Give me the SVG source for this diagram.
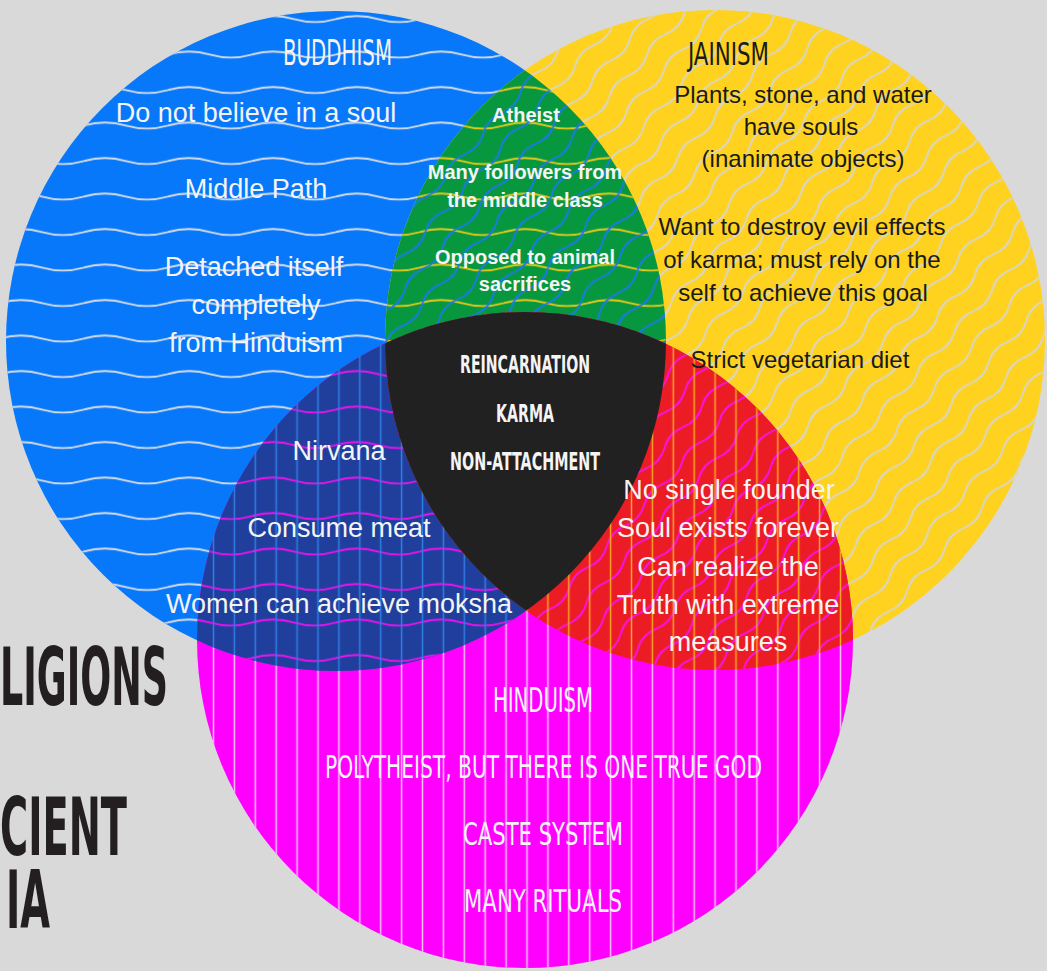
<svg xmlns="http://www.w3.org/2000/svg" width="1047" height="971" viewBox="0 0 1047 971">
  <defs>
    <style>
      .body{font-family:"Liberation Sans",Arial,sans-serif;text-anchor:middle}
      .light{fill:#f4f4f4}
      .dark{fill:#1a1a1a}
      .lg{font-size:27px}
      .md{font-size:24px}
      .sm{font-size:20px;font-weight:bold}
      .disp{font-family:"Liberation Sans Narrow","DejaVu Sans Condensed","Liberation Sans",sans-serif}
      .heavy{font-weight:bold}
      .title{font-family:"Liberation Sans Narrow","DejaVu Sans Condensed","Liberation Sans",sans-serif;font-weight:bold;fill:#231f20;font-size:81px}
      .ln{fill:none;stroke-width:1.8}
      .vl{fill:none;stroke-width:1.5}
    </style>

    <!-- circle outlines used for clipping -->
    <clipPath id="cB"><circle cx="336" cy="341" r="330"/></clipPath>
    <clipPath id="cY"><circle cx="715" cy="340" r="330"/></clipPath>
    <clipPath id="cP"><circle cx="525" cy="640" r="328"/></clipPath>

    <!-- horizontal waves (Buddhism) -->
    <pattern id="waveW" width="84" height="35.5" patternUnits="userSpaceOnUse">
      <path class="ln" d="M0,19 q21,-6 42,0 t42,0" stroke="#d8dde6"/>
    </pattern>
    <pattern id="waveY" width="84" height="35.5" patternUnits="userSpaceOnUse">
      <path class="ln" d="M0,19 q21,-6 42,0 t42,0" stroke="#e8c81c"/>
    </pattern>
    <pattern id="waveM" width="84" height="35.5" patternUnits="userSpaceOnUse">
      <path class="ln" d="M0,19 q21,-6 42,0 t42,0" stroke="#f010f0"/>
    </pattern>

    <!-- diagonal waves (Jainism) -->
    <pattern id="diagW" width="56" height="23" patternUnits="userSpaceOnUse" patternTransform="rotate(-48)">
      <path class="ln" d="M0,11.5 q14,-7 28,0 t28,0" stroke="#d6d6d0"/>
    </pattern>
    <pattern id="diagB" width="56" height="23" patternUnits="userSpaceOnUse" patternTransform="rotate(-48)">
      <path class="ln" d="M0,11.5 q14,-7 28,0 t28,0" stroke="#1a78f0"/>
    </pattern>
    <pattern id="diagM" width="56" height="23" patternUnits="userSpaceOnUse" patternTransform="rotate(-48)">
      <path class="ln" d="M0,11.5 q14,-7 28,0 t28,0" stroke="#f414f4"/>
    </pattern>

    <!-- vertical stripes (Hinduism) -->
    <pattern id="vertW" width="20.9" height="20" patternUnits="userSpaceOnUse">
      <line class="vl" x1="4.5" y1="0" x2="4.5" y2="20" stroke="#f6c6f6"/>
    </pattern>
    <pattern id="vertB" width="20.9" height="20" patternUnits="userSpaceOnUse">
      <line class="vl" x1="4.5" y1="0" x2="4.5" y2="20" stroke="#2f7de6"/>
    </pattern>
    <pattern id="vertO" width="20.9" height="20" patternUnits="userSpaceOnUse">
      <line class="vl" x1="4.5" y1="0" x2="4.5" y2="20" stroke="#f6a623"/>
    </pattern>
  </defs>

  <rect width="1047" height="971" fill="#d9d9d9"/>

  <!-- side title -->
  <g id="title">
    <text class="title" x="0" y="705" textLength="168" lengthAdjust="spacingAndGlyphs">LIGIONS</text>
    <text class="title" x="0" y="855" textLength="127" lengthAdjust="spacingAndGlyphs">CIENT</text>
    <text class="title" x="6" y="928" textLength="44" lengthAdjust="spacingAndGlyphs">IA</text>
  </g>

  <!-- single circles -->
  <g id="buddhism">
    <circle cx="336" cy="341" r="330" fill="#0878fa"/>
    <rect width="1047" height="971" fill="url(#waveW)" clip-path="url(#cB)"/>
  </g>
  <g id="jainism">
    <circle cx="715" cy="340" r="330" fill="#fed21f"/>
    <rect width="1047" height="971" fill="url(#diagW)" clip-path="url(#cY)"/>
  </g>
  <g id="hinduism">
    <circle cx="525" cy="640" r="328" fill="#ff00ff"/>
    <rect width="1047" height="971" fill="url(#vertW)" clip-path="url(#cP)"/>
  </g>

  <!-- pairwise overlaps -->
  <g id="buddhism-jainism" clip-path="url(#cB)">
    <g clip-path="url(#cY)">
      <rect width="1047" height="971" fill="#07983f"/>
      <rect width="1047" height="971" fill="url(#waveY)"/>
      <rect width="1047" height="971" fill="url(#diagB)"/>
    </g>
  </g>
  <g id="buddhism-hinduism" clip-path="url(#cB)">
    <g clip-path="url(#cP)">
      <rect width="1047" height="971" fill="#203f9c"/>
      <rect width="1047" height="971" fill="url(#waveM)"/>
      <rect width="1047" height="971" fill="url(#vertB)"/>
    </g>
  </g>
  <g id="jainism-hinduism" clip-path="url(#cY)">
    <g clip-path="url(#cP)">
      <rect width="1047" height="971" fill="#ec1c24"/>
      <rect width="1047" height="971" fill="url(#diagM)"/>
      <rect width="1047" height="971" fill="url(#vertO)"/>
    </g>
  </g>

  <!-- shared by all three -->
  <g id="all-three" clip-path="url(#cB)">
    <g clip-path="url(#cY)">
      <g clip-path="url(#cP)">
        <rect width="1047" height="971" fill="#222121"/>
      </g>
    </g>
  </g>

  <!-- labels -->
  <g id="buddhism-labels">
    <text class="disp light" x="283" y="65" font-size="35" textLength="109" lengthAdjust="spacingAndGlyphs">BUDDHISM</text>
    <text class="body light lg" x="256" y="122">Do not believe in a soul</text>
    <text class="body light lg" x="256" y="198">Middle Path</text>
    <text class="body light lg" x="254" y="276">Detached itself</text>
    <text class="body light lg" x="256" y="314">completely</text>
    <text class="body light lg" x="256" y="352">from Hinduism</text>
  </g>
  <g id="jainism-labels">
    <text class="disp dark" x="688" y="65" font-size="32" textLength="81" lengthAdjust="spacingAndGlyphs">JAINISM</text>
    <text class="body dark md" x="803" y="103">Plants, stone, and water</text>
    <text class="body dark md" x="801" y="135">have souls</text>
    <text class="body dark md" x="803" y="167">(inanimate objects)</text>
    <text class="body dark md" x="802" y="235">Want to destroy evil effects</text>
    <text class="body dark md" x="802" y="268">of karma; must rely on the</text>
    <text class="body dark md" x="803" y="301">self to achieve this goal</text>
    <text class="body dark md" x="800" y="368">Strict vegetarian diet</text>
  </g>
  <g id="buddhism-jainism-labels">
    <text class="body light sm" x="526" y="122">Atheist</text>
    <text class="body light sm" x="525" y="179">Many followers from</text>
    <text class="body light sm" x="525" y="207">the middle class</text>
    <text class="body light sm" x="525" y="264">Opposed to animal</text>
    <text class="body light sm" x="525" y="291">sacrifices</text>
  </g>
  <g id="buddhism-hinduism-labels">
    <text class="body light lg" x="339" y="460">Nirvana</text>
    <text class="body light lg" x="339" y="537">Consume meat</text>
    <text class="body light lg" x="339" y="613">Women can achieve moksha</text>
  </g>
  <g id="jainism-hinduism-labels">
    <text class="body light lg" x="729" y="499">No single founder</text>
    <text class="body light lg" x="728" y="537">Soul exists forever</text>
    <text class="body light lg" x="728" y="576">Can realize the</text>
    <text class="body light lg" x="728" y="614">Truth with extreme</text>
    <text class="body light lg" x="728" y="651">measures</text>
  </g>
  <g id="all-three-labels">
    <text class="disp heavy light" x="460" y="373" font-size="25" textLength="130" lengthAdjust="spacingAndGlyphs">REINCARNATION</text>
    <text class="disp heavy light" x="496" y="422" font-size="25" textLength="58" lengthAdjust="spacingAndGlyphs">KARMA</text>
    <text class="disp heavy light" x="450" y="470" font-size="25" textLength="150" lengthAdjust="spacingAndGlyphs">NON-ATTACHMENT</text>
  </g>
  <g id="hinduism-labels">
    <text class="disp light" x="493" y="712" font-size="33.5" textLength="100" lengthAdjust="spacingAndGlyphs">HINDUISM</text>
    <text class="disp light" x="325" y="778" font-size="32" textLength="437" lengthAdjust="spacingAndGlyphs">POLYTHEIST, BUT THERE IS ONE TRUE GOD</text>
    <text class="disp light" x="463" y="845" font-size="32" textLength="160" lengthAdjust="spacingAndGlyphs">CASTE SYSTEM</text>
    <text class="disp light" x="464" y="912" font-size="32" textLength="158" lengthAdjust="spacingAndGlyphs">MANY RITUALS</text>
  </g>
</svg>
